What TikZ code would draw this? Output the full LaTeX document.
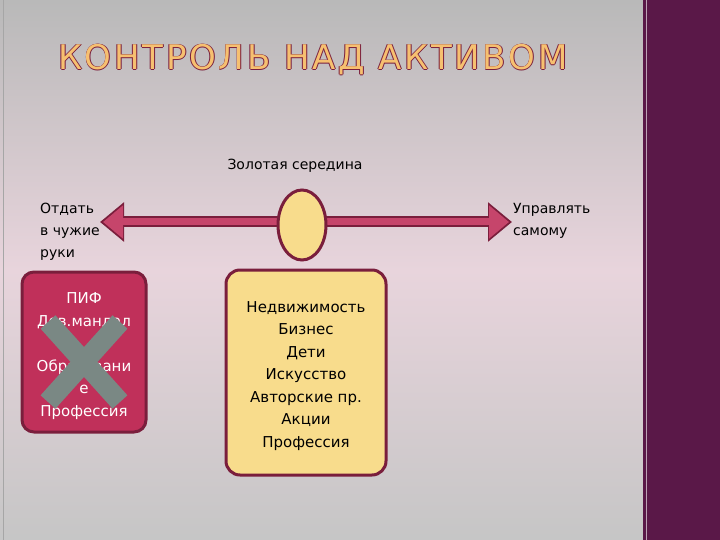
\documentclass[tikz,border=0pt]{standalone}
\usepackage{fontspec}
\setmainfont{DejaVu Sans}
\usetikzlibrary{shapes.geometric,arrows.meta}
\definecolor{maroon}{HTML}{7A1E3C}
\definecolor{redbox}{HTML}{C0305A}
\definecolor{yel}{HTML}{F8DC8C}
\definecolor{band}{HTML}{5A1848}
\definecolor{ttl}{HTML}{F6C070}
\definecolor{xgray}{HTML}{7A8884}
\tikzset{
 lbl/.style={font=\fontsize{14}{22}\selectfont, align=left, text=black, inner sep=0pt},
 boxtxt/.style={font=\fontsize{15}{22.5}\selectfont, align=center, inner sep=0pt},
 ttlstyle/.style={font=\fontsize{34}{34}\selectfont\addfontfeatures{LetterSpace=8}, inner sep=0pt}
}
\begin{document}
\begin{tikzpicture}[x=1pt,y=-1pt]
\useasboundingbox (0,0) rectangle (720,540);
\shade[top color=gray!55!white, bottom color=gray!45!white, middle color={rgb,255:red,232;green,212;blue,220}] (0,0) rectangle (643,540);
\fill[band] (643,0) rectangle (720,540);
\draw[white!60!band, line width=1pt] (646,0) -- (646,540);
\draw[gray!70, line width=0.8pt] (3,0) -- (3,540);
% title
\foreach \dx/\dy in {-0.9/0,0.9/0,0/-0.9,0/0.9}
  \node[ttlstyle, text=maroon] at (313+\dx,60+\dy) {КОНТРОЛЬ НАД АКТИВОМ};
\node[ttlstyle, text=ttl] (title) at (313,60) {КОНТРОЛЬ НАД АКТИВОМ};
% arrow
\coordinate (al) at (100,222);
\coordinate (ar) at (512,222);
\draw[maroon, line width=11pt, {Triangle[length=24pt,width=38pt]}-{Triangle[length=24pt,width=38pt]}] (al) -- (ar);
\draw[redbox!90!white, line width=7pt, shorten <=3pt, shorten >=3pt, {Triangle[length=20pt,width=32pt]}-{Triangle[length=20pt,width=32pt]}] (al) -- (ar);
\node[ellipse, fill=yel, draw=maroon, line width=3pt, minimum width=48pt, minimum height=70pt] (mid) at (302,225) {};
\node[lbl] (gold) at (295,166) {Золотая середина};
\node[lbl, anchor=north west] (left) at (40,203) {Отдать\\в чужие\\руки};
\node[lbl, anchor=north west] (right) at (513,203) {Управлять\\самому};
% left box
\draw[fill=redbox, draw=maroon, line width=3pt, rounded corners=12pt] (22,272) rectangle (146,432);
\node[boxtxt, text=white] (lbox) at (84,356) {ПИФ\\Дов.мандал\\\\Образовани\\е\\Профессия};
\draw[xgray, line width=20pt] (48,322) -- (120,402);
\draw[xgray, line width=20pt] (120,322) -- (48,402);
% right box
\draw[fill=yel, draw=maroon, line width=3pt, rounded corners=14pt] (226,270) rectangle (386,475);
\node[boxtxt, text=black] (rbox) at (306,376) {Недвижимость\\Бизнес\\Дети\\Искусство\\Авторские пр.\\Акции\\Профессия};
\end{tikzpicture}
\end{document}
